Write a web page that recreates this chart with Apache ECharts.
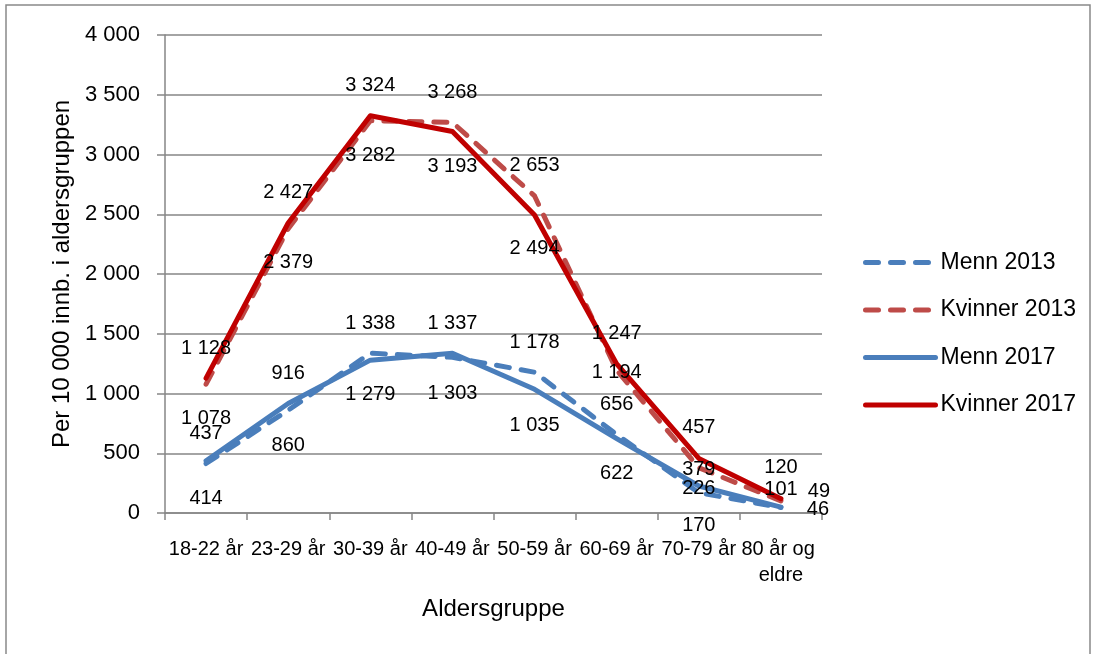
<!DOCTYPE html>
<html>
<head>
<meta charset="utf-8">
<script src="https://cdn.jsdelivr.net/npm/echarts@6/dist/echarts.min.js"></script>
<style>
  html, body { margin: 0; padding: 0; background: #fff; }
  #chart { width: 1096px; height: 654px; }
</style>
</head>
<body>
<div id="chart"></div>
<script>
// ---- data ----
const categories = ['18-22 år', '23-29 år', '30-39 år', '40-49 år', '50-59 år', '60-69 år', '70-79 år', '80 år og eldre'];
const seriesNames = ['Menn 2013', 'Kvinner 2013', 'Menn 2017', 'Kvinner 2017'];
const menn2013 = [414, 860, 1338, 1303, 1178, 656, 170, 46];
const kvinner2013 = [1078, 2379, 3282, 3268, 2653, 1194, 379, 101];
const menn2017 = [437, 916, 1279, 1337, 1035, 622, 226, 49];
const kvinner2017 = [1128, 2427, 3324, 3193, 2494, 1247, 457, 120];
const yTicks = [0, 500, 1000, 1500, 2000, 2500, 3000, 3500, 4000];

// ---- label placement (style, kept apart from the values) ----
const labelDy = {
  'Menn 2013':    [35, 35, -30, 36, -30, -30, 33, 2],
  'Kvinner 2013': [34, 34, 35, -30, -30, 2, 2, -11],
  'Menn 2017':    [-27, -30, 34, -30, 36, 35, 2, -16],
  'Kvinner 2017': [-30, -30, -30, 35, 34, -30, -31, -31]
};
const labelDx = {
  'Menn 2013':    [0, 0, 0, 0, 0, 0, 0, 37],
  'Kvinner 2013': [0, 0, 0, 0, 0, 0, 0, 0],
  'Menn 2017':    [0, 0, 0, 0, 0, 0, 0, 38],
  'Kvinner 2017': [0, 0, 0, 0, 0, 0, 0, 0]
};

const FONT = 'Liberation Sans';
const fmt = v => String(v).replace(/\B(?=(\d{3})+(?!\d))/g, ' ');

const styles = {
  'Menn 2013':    { color: '#4A7EBB', dashed: true },
  'Kvinner 2013': { color: '#BE4B48', dashed: true },
  'Menn 2017':    { color: '#4A7EBB', dashed: false },
  'Kvinner 2017': { color: '#C00000', dashed: false }
};
const values = {
  'Menn 2013': menn2013,
  'Kvinner 2013': kvinner2013,
  'Menn 2017': menn2017,
  'Kvinner 2017': kvinner2017
};

const series = seriesNames.map(name => ({
  name: name,
  type: 'line',
  symbol: 'circle',
  symbolSize: 0.1,
  itemStyle: { color: 'rgba(0,0,0,0)' },
  lineStyle: {
    color: styles[name].color,
    width: 5,
    type: styles[name].dashed ? [13, 12] : 'solid',
    cap: 'round',
    join: 'round'
  },
  emphasis: { disabled: true },
  animation: false,
  data: values[name].map((v, i) => ({
    value: v,
    label: {
      show: true,
      position: 'inside',
      offset: [labelDx[name][i], labelDy[name][i]],
      formatter: p => fmt(p.value),
      color: '#000',
      fontFamily: FONT,
      fontSize: 20
    }
  }))
}));

const chart = echarts.init(document.getElementById('chart'), null, { renderer: 'canvas' });
chart.setOption({
  backgroundColor: '#fff',
  animation: false,
  graphic: [{
    type: 'rect',
    shape: { x: 6, y: 5, width: 1084, height: 680 },
    style: { fill: 'none', stroke: '#898989', lineWidth: 1.5 },
    silent: true, z: -1
  }],
  grid: { left: 165, right: 274, top: 35, bottom: 141, containLabel: false },
  legend: {
    orient: 'vertical',
    left: 858,
    top: 246,
    itemWidth: 70,
    itemHeight: 16,
    itemGap: 24.5,
    data: seriesNames,
    lineStyle: { width: 5, cap: 'round' },
    textStyle: { color: '#000', fontFamily: FONT, fontSize: 23 },
    selectedMode: false
  },
  xAxis: {
    type: 'category',
    data: categories,
    boundaryGap: true,
    name: 'Aldersgruppe',
    nameLocation: 'middle',
    nameGap: 84,
    nameTextStyle: { color: '#000', fontFamily: FONT, fontSize: 24 },
    axisLine: { lineStyle: { color: '#868686', width: 1.5 } },
    axisTick: { show: true, length: 7, lineStyle: { color: '#868686', width: 1.5 } },
    axisLabel: {
      interval: 0,
      color: '#000',
      fontFamily: FONT,
      fontSize: 20,
      lineHeight: 26,
      margin: 23,
      width: 100,
      overflow: 'break'
    }
  },
  yAxis: {
    type: 'value',
    min: yTicks[0],
    max: yTicks[yTicks.length - 1],
    interval: yTicks[1] - yTicks[0],
    name: 'Per 10 000 innb. i aldersgruppen',
    nameLocation: 'middle',
    nameGap: 90,
    nameTextStyle: { color: '#000', fontFamily: FONT, fontSize: 24 },
    axisLine: { show: true, lineStyle: { color: '#868686', width: 1.5 } },
    axisTick: { show: true, length: 8, lineStyle: { color: '#868686', width: 1.5 } },
    splitLine: { lineStyle: { color: '#868686', width: 1.5 } },
    axisLabel: {
      color: '#000',
      fontFamily: FONT,
      fontSize: 22,
      margin: 25,
      formatter: v => fmt(v)
    }
  },
  series: series
});
</script>
</body>
</html>
